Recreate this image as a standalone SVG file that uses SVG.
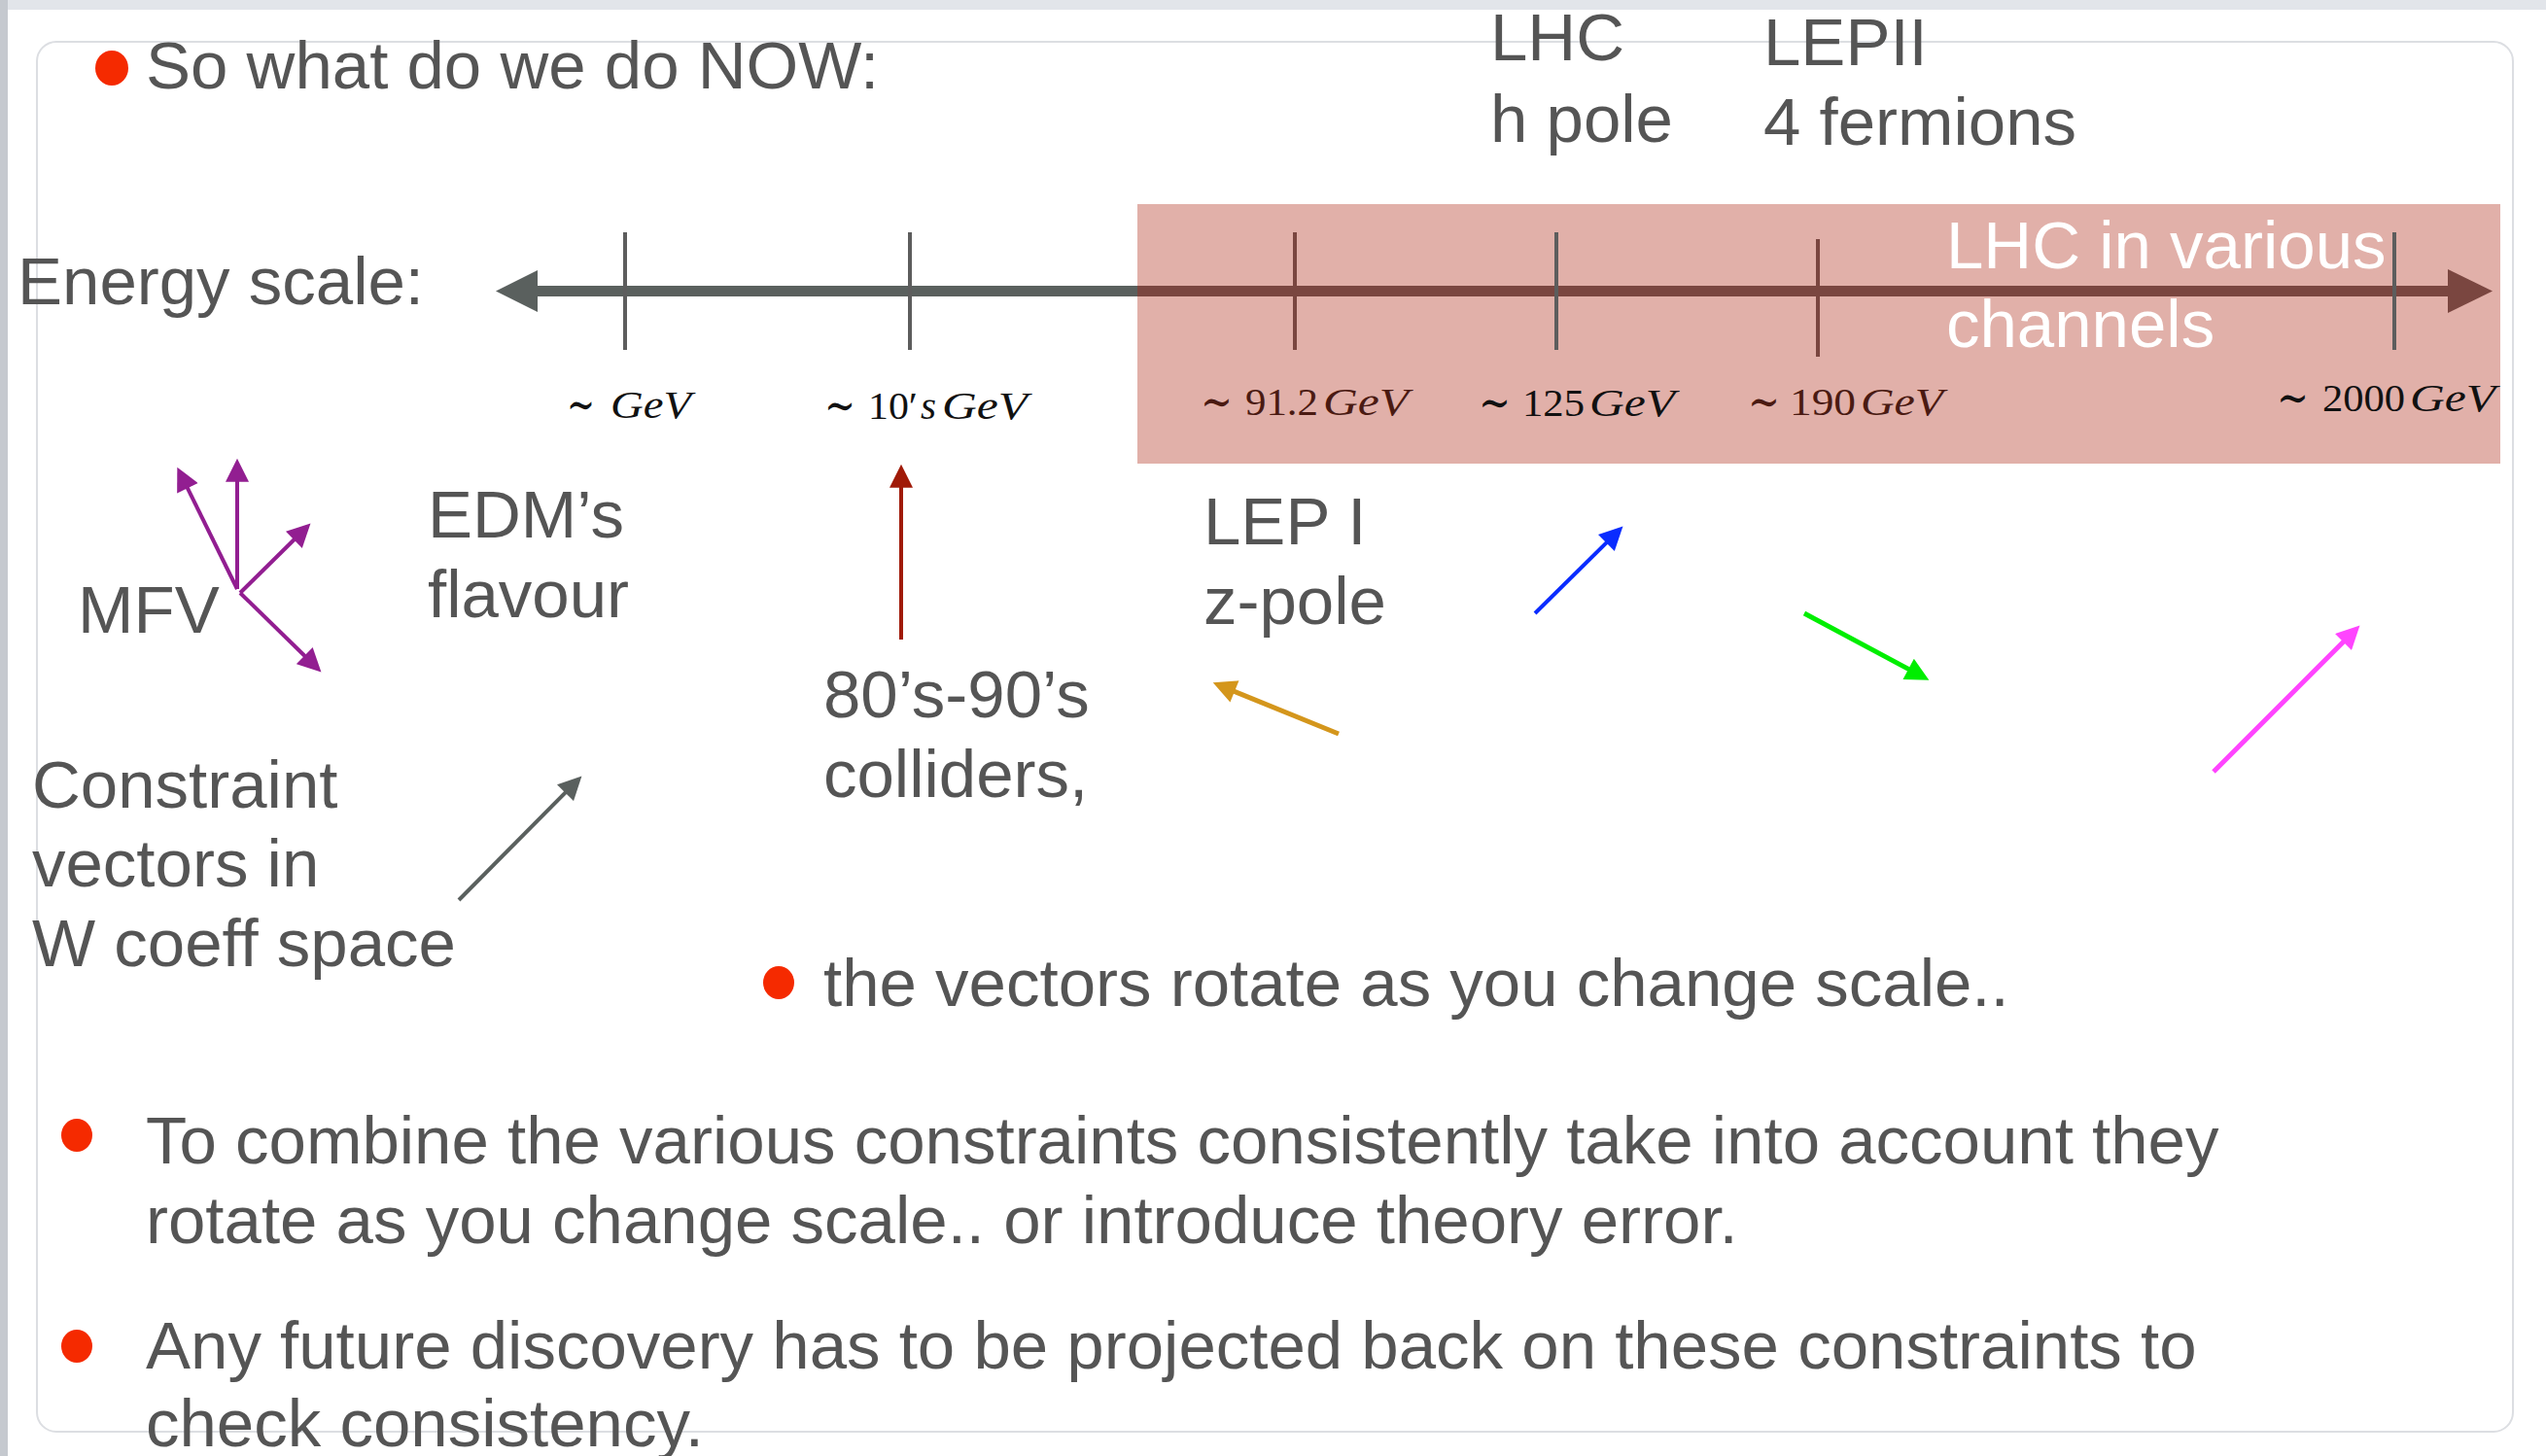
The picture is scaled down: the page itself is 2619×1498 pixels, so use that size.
<svg xmlns="http://www.w3.org/2000/svg" width="2619" height="1498" viewBox="0 0 2619 1498">
  <style>
    .t { font-family: "Liberation Sans", Arial, sans-serif; font-size: 69px; fill: #555555; }
    .w { fill: #ffffff; }
    .m { font-family: "Liberation Serif", "DejaVu Serif", serif; font-size: 40px; }
    .sim { font-family: "DejaVu Serif", serif; font-size: 50px; }
    .it { font-style: italic; }
    .dk { fill: #111111; }
    .br { fill: #4a1a12; }
    .bullet { fill: #f52a00; }
    .arr { fill: none; stroke-linecap: butt; }
  </style>
  <defs>
    <marker id="head-purple" viewBox="0 0 10 10" refX="2" refY="5" markerUnits="userSpaceOnUse" markerWidth="25" markerHeight="24" orient="auto"><path d="M0,0 L10,5 L0,10 z" fill="#921e91"/></marker>
    <marker id="head-gray" viewBox="0 0 10 10" refX="2" refY="5" markerUnits="userSpaceOnUse" markerWidth="25" markerHeight="24" orient="auto"><path d="M0,0 L10,5 L0,10 z" fill="#5a605e"/></marker>
    <marker id="head-red" viewBox="0 0 10 10" refX="2" refY="5" markerUnits="userSpaceOnUse" markerWidth="25" markerHeight="24" orient="auto"><path d="M0,0 L10,5 L0,10 z" fill="#a01a08"/></marker>
    <marker id="head-orange" viewBox="0 0 10 10" refX="2" refY="5" markerUnits="userSpaceOnUse" markerWidth="25" markerHeight="24" orient="auto"><path d="M0,0 L10,5 L0,10 z" fill="#d4961c"/></marker>
    <marker id="head-blue" viewBox="0 0 10 10" refX="2" refY="5" markerUnits="userSpaceOnUse" markerWidth="25" markerHeight="24" orient="auto"><path d="M0,0 L10,5 L0,10 z" fill="#0a2cff"/></marker>
    <marker id="head-green" viewBox="0 0 10 10" refX="2" refY="5" markerUnits="userSpaceOnUse" markerWidth="25" markerHeight="24" orient="auto"><path d="M0,0 L10,5 L0,10 z" fill="#00ee00"/></marker>
    <marker id="head-magenta" viewBox="0 0 10 10" refX="2" refY="5" markerUnits="userSpaceOnUse" markerWidth="25" markerHeight="24" orient="auto"><path d="M0,0 L10,5 L0,10 z" fill="#ff44ff"/></marker>
  </defs>

  <!-- slide frame -->
  <g id="frame">
    <rect x="0" y="0" width="2619" height="1498" fill="#ffffff"/>
    <rect x="0" y="0" width="2619" height="10" fill="#e2e5ea"/>
    <rect x="0" y="0" width="8" height="1498" fill="#c5c9cf"/>
    <rect x="38" y="43" width="2547" height="1430" rx="20" fill="#ffffff" stroke="#dcdee2" stroke-width="2"/>
  </g>

  <!-- heading -->
  <g id="title">
    <ellipse class="bullet" cx="115" cy="70" rx="17" ry="18"/>
    <text class="t" x="150" y="91">So what do we do NOW:</text>
  </g>

  <g id="label-energy-scale">
    <text class="t" x="18" y="313">Energy scale:</text>
  </g>

  <!-- LHC band -->
  <g id="lhc-band">
    <rect x="1170" y="210" width="1402" height="267" fill="#e1b0a9"/>
    <text class="t w" x="2002" y="276">LHC in various</text>
    <text class="t w" x="2002" y="357">channels</text>
  </g>

  <!-- energy axis with ticks -->
  <g id="energy-axis">
    <rect x="553" y="294" width="617" height="11" fill="#5a605e"/>
    <path d="M510,299.5 L553,278 L553,321 z" fill="#5a605e"/>
    <rect x="1170" y="294" width="1348" height="11" fill="#7a4640"/>
    <path d="M2564,299.5 L2518,277 L2518,322 z" fill="#7a4640"/>
    <rect x="641" y="239" width="4" height="121" fill="#5d5d5d"/>
    <rect x="934" y="239" width="4" height="121" fill="#5d5d5d"/>
    <rect x="1330" y="239" width="4" height="121" fill="#7a4640"/>
    <rect x="1599" y="239" width="4" height="121" fill="#5d5d5d"/>
    <rect x="1868" y="246" width="4" height="121" fill="#7a4640"/>
    <rect x="2461" y="239" width="4" height="121" fill="#5d5d5d"/>
  </g>

  <!-- scale values -->
  <g id="scale-gev">
    <text class="sim dk" x="583" y="433" textLength="29" lengthAdjust="spacingAndGlyphs">∼</text>
    <text class="m it dk" x="628" y="430" textLength="83" lengthAdjust="spacingAndGlyphs">GeV</text>
  </g>
  <g id="scale-10s-gev">
    <text class="sim dk" x="848" y="434" textLength="32" lengthAdjust="spacingAndGlyphs">∼</text>
    <text class="m dk" x="893" y="431" textLength="51" lengthAdjust="spacingAndGlyphs">10′</text>
    <text class="m it dk" x="947" y="431" textLength="16" lengthAdjust="spacingAndGlyphs">s</text>
    <text class="m it dk" x="969" y="431" textLength="88" lengthAdjust="spacingAndGlyphs">GeV</text>
  </g>
  <g id="scale-91">
    <text class="sim br" x="1235" y="430" textLength="33" lengthAdjust="spacingAndGlyphs">∼</text>
    <text class="m br" x="1281" y="427" textLength="75" lengthAdjust="spacingAndGlyphs">91.2</text>
    <text class="m it br" x="1361" y="427" textLength="88" lengthAdjust="spacingAndGlyphs">GeV</text>
  </g>
  <g id="scale-125">
    <text class="sim dk" x="1521" y="431" textLength="33" lengthAdjust="spacingAndGlyphs">∼</text>
    <text class="m dk" x="1566" y="428" textLength="64" lengthAdjust="spacingAndGlyphs">125</text>
    <text class="m it dk" x="1635" y="428" textLength="88" lengthAdjust="spacingAndGlyphs">GeV</text>
  </g>
  <g id="scale-190">
    <text class="sim br" x="1798" y="430" textLength="33" lengthAdjust="spacingAndGlyphs">∼</text>
    <text class="m br" x="1841" y="427" textLength="68" lengthAdjust="spacingAndGlyphs">190</text>
    <text class="m it br" x="1914" y="427" textLength="85" lengthAdjust="spacingAndGlyphs">GeV</text>
  </g>
  <g id="scale-2000">
    <text class="sim dk" x="2342" y="426" textLength="33" lengthAdjust="spacingAndGlyphs">∼</text>
    <text class="m dk" x="2389" y="423" textLength="85" lengthAdjust="spacingAndGlyphs">2000</text>
    <text class="m it dk" x="2479" y="423" textLength="88" lengthAdjust="spacingAndGlyphs">GeV</text>
  </g>

  <!-- experiment labels -->
  <g id="label-lhc-h">
    <text class="t" x="1533" y="62">LHC</text>
    <text class="t" x="1533" y="146">h pole</text>
  </g>
  <g id="label-lepii">
    <text class="t" x="1814" y="67">LEPII</text>
    <text class="t" x="1814" y="149">4 fermions</text>
  </g>
  <g id="label-mfv">
    <text class="t" x="80" y="651">MFV</text>
  </g>
  <g id="label-edm">
    <text class="t" x="440" y="553">EDM’s</text>
    <text class="t" x="440" y="635">flavour</text>
  </g>
  <g id="label-constraint">
    <text class="t" x="33" y="831">Constraint</text>
    <text class="t" x="33" y="912">vectors in</text>
    <text class="t" x="33" y="994">W coeff space</text>
  </g>
  <g id="label-colliders">
    <text class="t" x="847" y="738">80’s-90’s</text>
    <text class="t" x="847" y="820">colliders,</text>
  </g>
  <g id="label-lepi">
    <text class="t" x="1238" y="560">LEP I</text>
    <text class="t" x="1238" y="642">z-pole</text>
  </g>

  <!-- bullet points -->
  <g id="point-rotate">
    <ellipse class="bullet" cx="801" cy="1011" rx="16" ry="17"/>
    <text class="t" x="847" y="1035">the vectors rotate as you change scale..</text>
  </g>
  <g id="point-combine">
    <ellipse class="bullet" cx="79" cy="1168" rx="16" ry="17"/>
    <text class="t" x="150" y="1197">To combine the various constraints consistently take into account they</text>
    <text class="t" x="150" y="1279">rotate as you change scale.. or introduce theory error.</text>
  </g>
  <g id="point-discovery">
    <ellipse class="bullet" cx="79" cy="1385" rx="16" ry="17"/>
    <text class="t" x="150" y="1408">Any future discovery has to be projected back on these constraints to</text>
    <text class="t" x="150" y="1488">check consistency.</text>
  </g>

  <!-- constraint vectors -->
  <g id="connectors">
    <line class="arr" x1="244" y1="606" x2="244" y2="491" stroke="#921e91" stroke-width="4" marker-end="url(#head-purple)"/>
    <line class="arr" x1="244" y1="606" x2="190.8" y2="497.9" stroke="#921e91" stroke-width="4" marker-end="url(#head-purple)"/>
    <line class="arr" x1="247" y1="610" x2="305.8" y2="552" stroke="#921e91" stroke-width="4" marker-end="url(#head-purple)"/>
    <line class="arr" x1="247" y1="610" x2="316.7" y2="678" stroke="#921e91" stroke-width="4" marker-end="url(#head-purple)"/>
    <line class="arr" x1="472" y1="926" x2="584.9" y2="812.2" stroke="#5a605e" stroke-width="4" marker-end="url(#head-gray)"/>
    <line class="arr" x1="927" y1="658" x2="927" y2="497" stroke="#a01a08" stroke-width="4" marker-end="url(#head-red)"/>
    <line class="arr" x1="1377" y1="755" x2="1265.5" y2="709.6" stroke="#d4961c" stroke-width="5" marker-end="url(#head-orange)"/>
    <line class="arr" x1="1579" y1="631" x2="1655.8" y2="555.1" stroke="#0a2cff" stroke-width="4" marker-end="url(#head-blue)"/>
    <line class="arr" x1="1856" y1="631" x2="1967.4" y2="690.6" stroke="#00ee00" stroke-width="5" marker-end="url(#head-green)"/>
    <line class="arr" x1="2277" y1="794" x2="2413.9" y2="657.1" stroke="#ff44ff" stroke-width="5" marker-end="url(#head-magenta)"/>
  </g>
</svg>
